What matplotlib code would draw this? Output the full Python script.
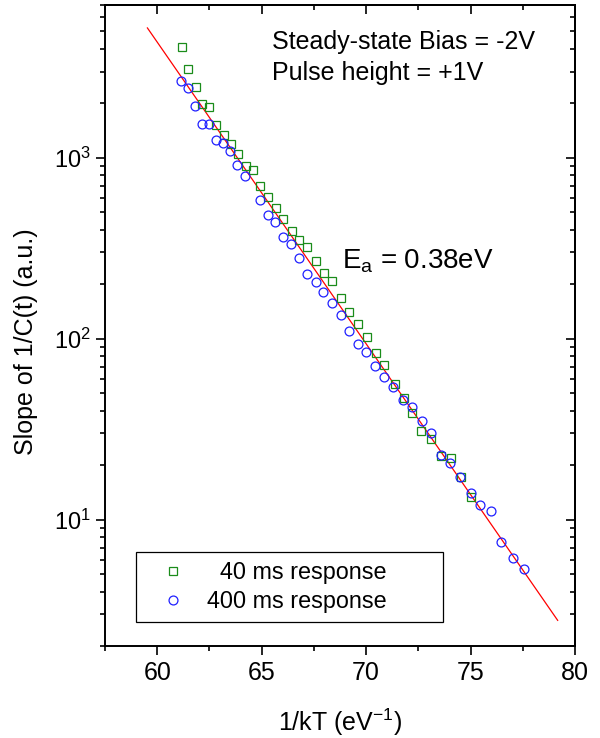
import matplotlib
matplotlib.use('Agg')
import matplotlib.pyplot as plt
import numpy as np
from matplotlib.ticker import LogLocator, NullFormatter, MultipleLocator, LogFormatterSciNotation, FormatStrFormatter

plt.rcParams['font.family'] = ['Liberation Sans', 'DejaVu Sans']
plt.rcParams['mathtext.fontset'] = 'custom'
plt.rcParams['mathtext.rm'] = 'Liberation Sans'
plt.rcParams['mathtext.it'] = 'Liberation Sans:italic'
plt.rcParams['mathtext.bf'] = 'Liberation Sans:bold'

# ---- data ----
x_40ms = [61.18, 61.49, 61.85, 62.13, 62.48, 62.82, 63.22, 63.54, 63.89, 64.24,
          64.58, 64.93, 65.30, 65.68, 66.04, 66.45, 66.81, 67.19, 67.60, 67.99,
          68.39, 68.79, 69.19, 69.61, 70.02, 70.45, 70.88, 71.36, 71.79, 72.22,
          72.64, 73.11, 73.60, 74.06, 74.52, 75.02]
y_40ms = [4080, 3080, 2470, 1980, 1910, 1515, 1333, 1200, 1046, 898,
          853, 696, 607, 530, 461, 394, 353, 321, 269, 230,
          208, 168, 140, 121, 102, 83.8, 71.9, 56.2, 46.8, 38.7,
          31.0, 27.9, 22.5, 21.9, 17.3, 13.4]

x_400ms = [61.14, 61.49, 61.81, 62.13, 62.50, 62.82, 63.17, 63.49, 63.84, 64.21,
           64.93, 65.28, 65.65, 66.04, 66.41, 66.81, 67.19, 67.60, 67.96, 68.39,
           68.79, 69.20, 69.61, 70.01, 70.44, 70.87, 71.31, 71.75, 72.22, 72.67,
           73.12, 73.59, 74.03, 74.51, 75.02, 75.47, 75.98, 76.47, 77.02, 77.54]
y_400ms = [2665, 2418, 1930, 1548, 1548, 1251, 1215, 1091, 910, 791,
           587, 481, 441, 365, 335, 280, 227, 205, 181, 157,
           136, 110, 93.6, 84.9, 71.0, 61.2, 54.3, 45.9, 41.7, 35.2,
           30.0, 22.8, 20.5, 17.3, 14.1, 12.0, 11.2, 7.56, 6.17, 5.36]

# Arrhenius fit: y = A * exp(-Ea * x)
fit_Ea = 0.384
fit_log10_A = 13.646
fit_x_range = [59.53, 79.17]

x_ticks = [60, 65, 70, 75, 80]
x_lim = [57.5, 80]
y_lim = [2, 7000]

# ---- figure ----
fig = plt.figure(figsize=(6, 7.38), dpi=100)
ax = fig.add_axes([0.175, 0.12466, 0.78333, 0.86856])

fx = np.linspace(fit_x_range[0], fit_x_range[1], 200)
fy = 10 ** (fit_log10_A - fit_Ea * fx / np.log(10))
ax.plot(fx, fy, color='#ff0000', lw=0.9, zorder=2)

l40, = ax.plot(x_40ms, y_40ms, ls='none', marker='s', ms=5.6, mfc='none',
               mec='#1a8c1a', mew=0.9, zorder=3)
l400, = ax.plot(x_400ms, y_400ms, ls='none', marker='o', ms=6.4, mfc='none',
                mec='#1f1fff', mew=0.9, zorder=3)

ax.set_yscale('log')
ax.set_xlim(*x_lim)
ax.set_ylim(*y_lim)

ax.xaxis.set_major_locator(matplotlib.ticker.FixedLocator(x_ticks))
ax.xaxis.set_major_formatter(FormatStrFormatter('%d'))
ax.xaxis.set_minor_locator(MultipleLocator(2.5))
ax.yaxis.set_major_locator(LogLocator(base=10))
ax.yaxis.set_major_formatter(LogFormatterSciNotation())
ax.yaxis.set_minor_locator(LogLocator(base=10, subs=np.arange(2, 10)))
ax.yaxis.set_minor_formatter(NullFormatter())

for s in ax.spines.values():
    s.set_linewidth(1.4)

ax.tick_params(axis='both', which='major', direction='out', length=6.5, width=1.2,
               top=False, right=False)
ax.tick_params(axis='both', which='minor', direction='out', length=3.6, width=1.2,
               top=False, right=False)
ax.tick_params(axis='x', which='major', labelsize=18, pad=4)
ax.tick_params(axis='y', which='major', labelsize=17, pad=4)

secx = ax.secondary_xaxis('top')
secx.xaxis.set_major_locator(matplotlib.ticker.FixedLocator(x_ticks))
secx.xaxis.set_minor_locator(MultipleLocator(2.5))
secx.tick_params(which='major', direction='in', length=6.5, width=1.2, labeltop=False)
secx.tick_params(which='minor', direction='in', length=3.6, width=1.2, labeltop=False)
secx.spines['top'].set_linewidth(1.4)

secy = ax.secondary_yaxis('right')
secy.yaxis.set_major_locator(LogLocator(base=10))
secy.yaxis.set_minor_locator(LogLocator(base=10, subs=np.arange(2, 10)))
secy.yaxis.set_minor_formatter(NullFormatter())
secy.tick_params(which='major', direction='in', length=6.5, width=1.2, labelright=False)
secy.tick_params(which='minor', direction='in', length=3.6, width=1.2, labelright=False)
secy.spines['right'].set_linewidth(1.4)

ax.set_xlabel(r'1/kT (eV$^{\mathregular{-1}}$)', fontsize=18)
ax.xaxis.set_label_coords(0.5, -0.095)
ax.xaxis.label.set_va('top')
ax.set_ylabel('Slope of 1/C(t) (a.u.)', fontsize=18)
ax.yaxis.set_label_coords(-0.143, 0.474)

ax.text(0.3547, 0.9314, 'Steady-state Bias = -2V', transform=ax.transAxes,
        fontsize=18, va='baseline', ha='left')
ax.text(0.3547, 0.883, 'Pulse height = +1V', transform=ax.transAxes,
        fontsize=18, va='baseline', ha='left')
ax.text(0.5036, 0.5892, r'E$_{\mathregular{a}}$ = 0.38eV', transform=ax.transAxes,
        fontsize=20, va='baseline', ha='left')

leg = ax.legend([l40, l400], ['  40 ms response', '400 ms response'],
                loc='upper left', bbox_to_anchor=(0.0653, 0.039, 0.6532, 0.108),
                mode='expand', borderaxespad=0, fontsize=16.8, numpoints=1,
                handlelength=2.38, handletextpad=0.27, borderpad=0.4,
                labelspacing=0.25, fancybox=False, framealpha=1, edgecolor='black')
leg.get_frame().set_linewidth(0.9)

fig.savefig('out.png', dpi=100)
